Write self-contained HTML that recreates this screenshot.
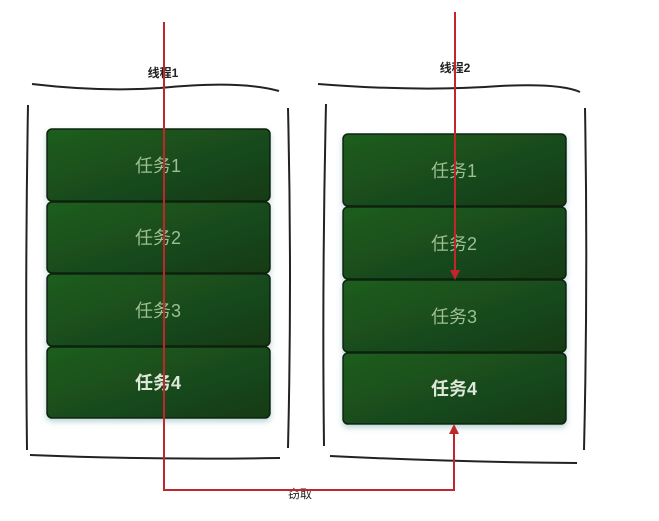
<!DOCTYPE html><html><head><meta charset="utf-8"><style>body{margin:0;background:#fff}svg{display:block}</style></head><body>
<svg width="659" height="521" xmlns="http://www.w3.org/2000/svg" font-family="Liberation Sans, Noto Sans CJK SC, sans-serif">
<defs>
<linearGradient id="g" x1="0" y1="0" x2="1" y2="1"><stop offset="0" stop-color="#1f5e1f"/><stop offset="1" stop-color="#143a18"/></linearGradient>
<filter id="s" x="-10%" y="-10%" width="120%" height="130%"><feDropShadow dx="0" dy="3" stdDeviation="3" flood-color="#7aa" flood-opacity="0.5"/></filter>
</defs>
<g fill="none" stroke="#222" stroke-width="2">
<path d="M32 84 Q100 92 160 88 Q240 80 279 91"/>
<path d="M28 105 Q25 280 27 450"/>
<path d="M288 108 Q292 280 288 448"/>
<path d="M30 455 Q150 460 280 458"/>
<path d="M318 84 Q420 92 500 86 Q560 83 580 92"/>
<path d="M326 104 Q322 280 324 446"/>
<path d="M585 108 Q588 280 584 450"/>
<path d="M330 456 Q450 462 577 463"/>
</g>
<g filter="url(#s)" stroke="#0b200b" stroke-width="1.5" fill="url(#g)">
<rect x="47" y="129" width="223" height="72" rx="5"/>
<rect x="47" y="202" width="223" height="71" rx="5"/>
<rect x="47" y="274" width="223" height="72" rx="5"/>
<rect x="47" y="347" width="223" height="71" rx="5"/>
<rect x="343" y="134" width="223" height="72" rx="5"/>
<rect x="343" y="207" width="223" height="72" rx="5"/>
<rect x="343" y="280" width="223" height="72" rx="5"/>
<rect x="343" y="353" width="223" height="71" rx="5"/>
</g>
<g fill="#9dbf92" font-size="18" text-anchor="middle">
<text x="158" y="172">任务1</text><text x="158" y="244">任务2</text><text x="158" y="317">任务3</text><text x="158" y="389" fill="#dde8d8" font-weight="bold">任务4</text>
<text x="454" y="177">任务1</text><text x="454" y="250">任务2</text><text x="454" y="323">任务3</text><text x="454" y="395" fill="#dde8d8" font-weight="bold">任务4</text>
</g>
<g font-size="12" font-weight="bold" fill="#222" text-anchor="middle">
<text x="163" y="77">线程1</text><text x="455" y="72">线程2</text>
<text x="300" y="498" font-weight="normal">窃取</text>
</g>
<g stroke="#c0262a" stroke-width="2" fill="none">
<path d="M164 22 V490 H454 V432"/>
<path d="M455 12 V272"/>
</g>
<g fill="#c0262a"><path d="M449 434 L454 424 L459 434Z"/><path d="M450 270 L455 280 L460 270Z"/></g>
</svg></body></html>
